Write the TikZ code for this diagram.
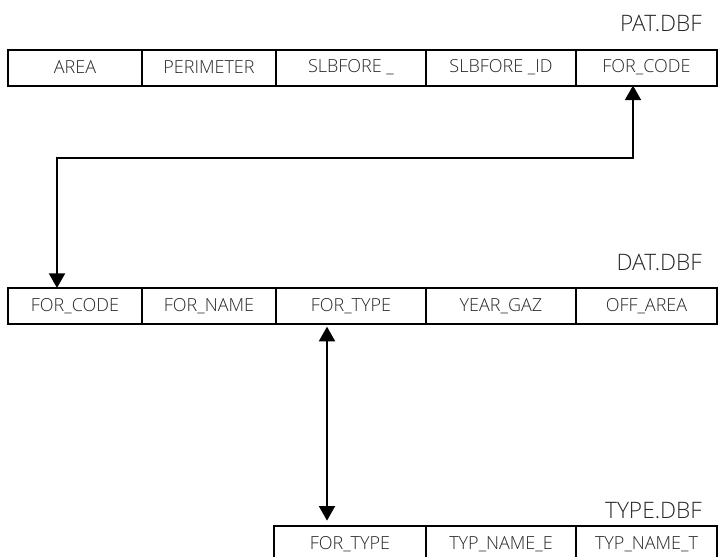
\documentclass[tikz,border=0pt]{standalone}
\usepackage{fontspec}
\IfFontExistsTF{Open Sans Light}{\setmainfont{Open Sans Light}}{\setmainfont{Open Sans}}
\usetikzlibrary{arrows.meta}

\tikzset{
  cell/.style = {draw, line width=1.5pt, minimum height=27pt, inner sep=0pt,
                 outer sep=0pt, text=black!85, font=\fontsize{13.5}{15}\selectfont},
  title/.style = {anchor=east, inner sep=0pt, text=black!85, font=\fontsize{17}{19}\selectfont},
  link/.style = {line width=1.5pt, {Triangle[width=12pt,length=11pt]}-{Triangle[width=12pt,length=11pt]}}
}

\begin{document}
\begin{tikzpicture}[x=0.75pt, y=-0.75pt]
  \useasboundingbox (0,0) rectangle (718,557);

  % Punti di piegatura dei collegamenti
  \coordinate (bendR) at (633,158); % sotto FOR_CODE di PAT
  \coordinate (bendL) at (57,158);  % sopra FOR_CODE di DAT
  \coordinate (typeX) at (327,420); % asse del collegamento FOR_TYPE

  % Tabella PAT.DBF
  \node[title] (patName) at (702,23) {PAT.DBF};
  \node[cell, minimum width=100.5pt] (pC1) at (75,67.5) {AREA};
  \node[cell, minimum width=100.5pt] (pC2) at (209,67.5) {PERIMETER};
  \node[cell, minimum width=112.5pt] (pC3) at (351,67.5) {SLBFORE \_};
  \node[cell, minimum width=112.5pt] (pC4) at (501,67.5) {SLBFORE \_ID};
  \node[cell, minimum width=105.75pt] (pC5) at (646.5,67.5) {FOR\_CODE};

  % Tabella DAT.DBF
  \node[title] (datName) at (702,262) {DAT.DBF};
  \node[cell, minimum width=100.5pt] (dC1) at (75,306) {FOR\_CODE};
  \node[cell, minimum width=100.5pt] (dC2) at (209,306) {FOR\_NAME};
  \node[cell, minimum width=112.5pt] (dC3) at (351,306) {FOR\_TYPE};
  \node[cell, minimum width=112.5pt] (dC4) at (501,306) {YEAR\_GAZ};
  \node[cell, minimum width=105.75pt] (dC5) at (646.5,306) {OFF\_AREA};

  % Tabella TYPE.DBF
  \node[title] (typeName) at (702,511) {TYPE.DBF};
  \node[cell, minimum width=114pt] (tC1) at (350,544) {FOR\_TYPE};
  \node[cell, minimum width=112.5pt] (tC2) at (501,544) {TYP\_NAME\_E};
  \node[cell, minimum width=105.75pt] (tC3) at (646.5,544) {TYP\_NAME\_T};

  % Collegamento FOR_CODE (PAT <-> DAT)
  \draw[link] (pC5.south -| bendR) -- (bendR) -- (bendL) -- (dC1.north -| bendL);

  % Collegamento FOR_TYPE (DAT <-> TYPE)
  \draw[link, shorten <=2pt, shorten >=4pt] (dC3.south -| typeX) -- (tC1.north -| typeX);
\end{tikzpicture}
\end{document}
